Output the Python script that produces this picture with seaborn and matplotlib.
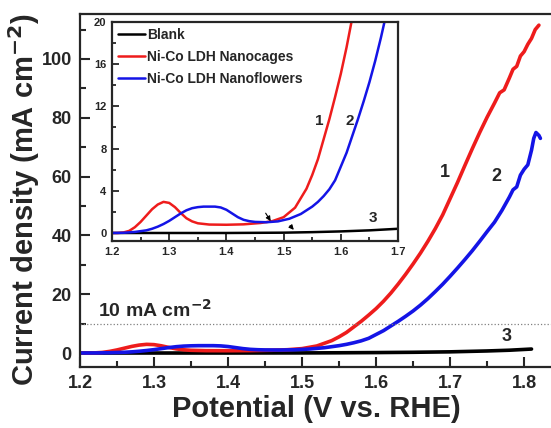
import numpy as np
import pandas as pd
import seaborn as sns
import matplotlib.pyplot as plt
from matplotlib.ticker import MultipleLocator

# Data
blank_v = [1.20, 1.30, 1.40, 1.50, 1.55, 1.60, 1.65, 1.70, 1.75, 1.78, 1.81]
blank_j = [0.0, 0.0, 0.0, 0.03, 0.08, 0.15, 0.25, 0.4, 0.7, 0.95, 1.35]

cage_v = [1.20, 1.21, 1.22, 1.23, 1.24, 1.25, 1.26, 1.27, 1.28, 1.29, 1.30, 1.31,
          1.32, 1.33, 1.34, 1.35, 1.37, 1.40, 1.43, 1.46, 1.48, 1.50, 1.52, 1.54,
          1.55, 1.56, 1.57, 1.58, 1.59, 1.60, 1.61, 1.62, 1.63, 1.64, 1.65, 1.66,
          1.67, 1.68, 1.69, 1.70, 1.71, 1.72, 1.73, 1.74, 1.75, 1.76, 1.767, 1.773,
          1.78, 1.785, 1.79, 1.795, 1.80, 1.805, 1.81, 1.815, 1.82]
cage_j = [0.0, 0.0, 0.05, 0.2, 0.55, 1.05, 1.65, 2.25, 2.7, 2.95, 2.85, 2.45,
          1.9, 1.4, 1.1, 0.92, 0.8, 0.78, 0.82, 0.95, 1.12, 1.5, 2.4, 4.2,
          5.5, 7.0, 8.9, 10.8, 12.9, 15.1, 17.6, 20.4, 23.5, 26.8, 30.3, 34.0,
          38.0, 42.3, 47.0, 52.5, 58.0, 63.8, 69.5, 75.0, 80.2, 85.0, 88.5, 89.5,
          93.5, 96.5, 97.5, 101.0, 102.5, 105.0, 107.0, 110.0, 111.5]

flower_v = [1.20, 1.22, 1.24, 1.26, 1.27, 1.28, 1.29, 1.30, 1.31, 1.32, 1.33, 1.34,
            1.35, 1.36, 1.37, 1.38, 1.39, 1.40, 1.41, 1.42, 1.43, 1.44, 1.45, 1.47,
            1.49, 1.51, 1.53, 1.55, 1.56, 1.57, 1.58, 1.59, 1.60, 1.61, 1.62, 1.63,
            1.64, 1.65, 1.66, 1.67, 1.68, 1.69, 1.70, 1.71, 1.72, 1.73, 1.74, 1.75,
            1.76, 1.77, 1.78, 1.785, 1.79, 1.795, 1.80, 1.805, 1.81, 1.813, 1.816,
            1.82, 1.822]
flower_j = [0.0, 0.02, 0.1, 0.25, 0.4, 0.6, 0.85, 1.15, 1.5, 1.85, 2.15, 2.35,
            2.45, 2.5, 2.5, 2.5, 2.42, 2.2, 1.85, 1.5, 1.25, 1.12, 1.05, 1.02,
            1.1, 1.35, 1.8, 2.5, 2.95, 3.5, 4.15, 5.0, 6.3, 7.6, 9.2, 10.8,
            12.5, 14.3, 16.3, 18.5, 20.9, 23.4, 26.1, 28.9, 31.8, 34.8, 38.0, 41.3,
            44.5, 48.5, 53.0, 55.5, 56.5, 60.5, 62.5, 64.0, 69.0, 73.0, 75.0,
            74.0, 73.0]

labels = ["Blank", "Ni-Co LDH Nanocages", "Ni-Co LDH Nanoflowers"]
colors = ["black", "#ee1c1c", "#1414e6"]

sns.set_style("ticks")
plt.rcParams['font.family'] = ['Liberation Sans', 'DejaVu Sans']
plt.rcParams['font.weight'] = 'bold'
plt.rcParams['mathtext.default'] = 'bf'

fig = plt.figure(figsize=(5.51, 4.28), dpi=100)
ax = fig.add_axes([0.1452, 0.1425, 0.8584, 0.8248])

series = [(blank_v, blank_j), (cage_v, cage_j), (flower_v, flower_j)]
for (v, j), lab, c in zip(series, labels, colors):
    sns.lineplot(x=v, y=j, ax=ax, color=c, lw=2.6, sort=False, estimator=None)

ax.axhline(10, color='grey', ls=':', lw=0.9)
ax.text(1.224, 14.7, "10 mA cm$^{-2}$", fontsize=14, fontweight='bold', va='center')
ax.text(1.693, 61.4, "1", fontsize=13, fontweight='bold', ha='center', va='center')
ax.text(1.763, 60.0, "2", fontsize=13, fontweight='bold', ha='center', va='center')
ax.text(1.777, 5.5, "3", fontsize=13, fontweight='bold', ha='center', va='center')

ax.set_xlim(1.2, 1.839)
ax.set_ylim(-4.76, 115.3)
ax.xaxis.set_major_locator(MultipleLocator(0.1))
ax.xaxis.set_minor_locator(MultipleLocator(0.05))
ax.yaxis.set_major_locator(MultipleLocator(20))
ax.yaxis.set_minor_locator(MultipleLocator(10))
ax.tick_params(which='major', direction='in', length=7, width=1.5, labelsize=13, pad=6)
ax.tick_params(which='minor', direction='in', length=4, width=1.5)
for s in ax.spines.values():
    s.set_linewidth(1.6)
ax.set_xlabel("Potential (V vs. RHE)", fontsize=21, fontweight='bold', labelpad=2)
ax.set_ylabel("Current density (mA cm$^{-2}$)", fontsize=21, fontweight='bold')
ax.yaxis.set_label_coords(-0.08, 0.473)

# inset: zoom of onset region
ins = fig.add_axes([0.2033, 0.4369, 0.5191, 0.5117])
ins.set_facecolor('white')
for (v, j), lab, c in zip(series, labels, colors):
    sns.lineplot(x=v, y=j, ax=ins, color=c, lw=1.8, sort=False, estimator=None, label=lab)

ins.text(1.563, 10.6, "1", fontsize=11, fontweight='bold', ha='center', va='center')
ins.text(1.615, 10.6, "2", fontsize=11, fontweight='bold', ha='center', va='center')
ins.text(1.656, 1.4, "3", fontsize=11, fontweight='bold', ha='center', va='center')
ins.annotate("", xy=(1.480, 0.9), xytext=(1.466, 2.1),
             arrowprops=dict(arrowstyle='-|>', color='black', lw=0.8, mutation_scale=7))
ins.annotate("", xy=(1.521, 0.1), xytext=(1.508, 0.9),
             arrowprops=dict(arrowstyle='-|>', color='black', lw=0.8, mutation_scale=7))

ins.set_xlim(1.2, 1.7)
ins.set_ylim(-0.76, 20)
ins.xaxis.set_major_locator(MultipleLocator(0.1))
ins.xaxis.set_minor_locator(MultipleLocator(0.05))
ins.yaxis.set_major_locator(MultipleLocator(4))
ins.yaxis.set_minor_locator(MultipleLocator(2))
ins.tick_params(which='major', direction='in', length=5, width=1.3, labelsize=8, pad=4)
ins.tick_params(which='minor', direction='in', length=3, width=1.3)
for s in ins.spines.values():
    s.set_linewidth(1.6)
ins.set_xlabel("")
ins.set_ylabel("")
ins.legend(loc='upper left', frameon=False, handlelength=1.9,
           handletextpad=0.2, labelspacing=0.57, borderaxespad=0.05,
           prop={'weight': 'bold', 'size': 10})

fig.savefig("out.png", dpi=100)
